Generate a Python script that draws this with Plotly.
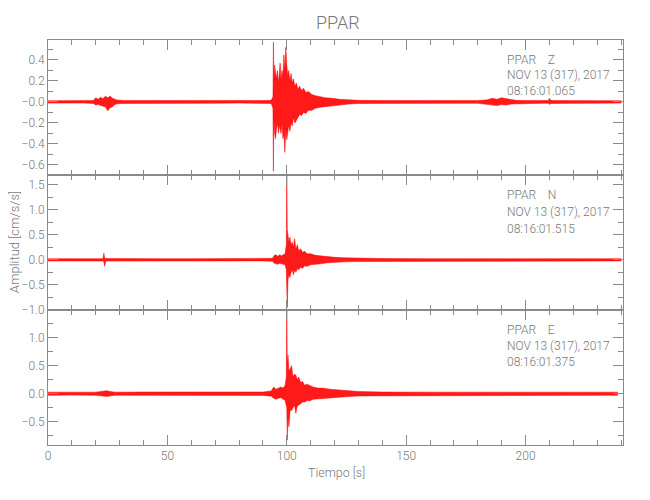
import plotly.graph_objects as go
from plotly.subplots import make_subplots

# ---------------- data (envelopes) ----------------
t_Z = [0, 5, 10, 15, 19, 20, 21, 22, 23, 24, 25, 26, 27, 28, 29, 32, 40, 50, 60, 70, 80, 90,
       93.5, 94.2, 94.4, 94.6, 94.9, 95.3, 95.7, 96.1, 96.5, 96.9, 97.2, 97.6, 98.0, 98.4, 98.8,
       99.2, 99.6, 100.0, 100.4, 100.8, 101.3, 101.8, 102.3, 102.8, 103.4, 104.0, 104.7, 105.4,
       106.2, 107.0, 108.0, 109.0, 110.5, 112.0, 114.0, 116.0, 119.0, 122.0, 126.0, 130.0, 140,
       150, 160, 170, 180, 184, 186, 188, 190, 192, 194, 196, 200, 208, 209.5, 210, 210.5, 212,
       220, 230, 240]
up_Z = [.011, .013, .012, .013, .014, .04, .025, .045, .03, .055, .04, .055, .035, .025, .018, .014,
        .013, .012, .012, .011, .012, .013,
        .015, .05, .57, .2, .35, .3, .22, .3, .18, .28, .37, .2, .3, .25, .45,
        .3, .52, .35, .25, .3, .2, .27, .18, .22, .15, .18, .12, .15,
        .11, .13, .09, .1, .07, .06, .05, .04, .035, .025, .02, .015, .013,
        .012, .013, .012, .013, .02, .035, .025, .04, .03, .025, .015, .013, .012, .013, .035, .015, .013,
        .012, .012, .011]
lo_Z = [-.011, -.012, -.013, -.011, -.014, -.03, -.025, -.035, -.04, -.045, -.085, -.055, -.045, -.025,
        -.018, -.014, -.013, -.012, -.011, -.012, -.011, -.013,
        -.015, -.06, -.66, -.15, -.3, -.35, -.25, -.2, -.3, -.22, -.26, -.3, -.2, -.35, -.3,
        -.48, -.25, -.36, -.3, -.22, -.28, -.2, -.23, -.15, -.2, -.17, -.15, -.12,
        -.13, -.1, -.11, -.08, -.08, -.06, -.05, -.04, -.035, -.03, -.02, -.015, -.013,
        -.012, -.012, -.013, -.013, -.02, -.03, -.035, -.025, -.03, -.02, -.015, -.013, -.012,
        -.013, -.025, -.015, -.013, -.012, -.012, -.011]

t_N = [0, 10, 20, 23, 23.4, 23.7, 24.2, 30, 40, 50, 60, 70, 80, 90, 94, 94.8, 95.5, 96.3, 97,
       97.8, 98.6, 99.3, 99.8, 100.0, 100.2, 100.5, 100.9, 101.3, 101.8, 102.3, 102.8, 103.3,
       103.8, 104.4, 105.0, 105.8, 106.6, 107.5, 108.5, 110, 112, 114, 117, 120, 124, 128, 132,
       140, 160, 180, 200, 220, 240]
up_N = [.022, .022, .022, .022, .13, .04, .025, .022, .022, .022, .022, .022, .022, .022, .03,
        .09, .1, .07, .1, .08, .1, .12, .3, 1.7, .6, .52, .35, .45, .3, .35, .25, .42,
        .2, .3, .18, .22, .15, .17, .12, .12, .09, .08, .06, .05, .04, .035, .03,
        .025, .022, .022, .022, .022, .022]
lo_N = [-.022, -.022, -.022, -.025, -.04, -.13, -.025, -.022, -.022, -.022, -.022, -.022, -.022,
        -.022, -.03, -.07, -.08, -.09, -.07, -.08, -.09, -.1, -.2, -.3, -.95, -.4, -.3, -.35,
        -.25, -.2, -.3, -.2, -.25, -.18, -.2, -.15, -.17, -.12, -.13, -.1, -.09, -.08, -.06,
        -.05, -.04, -.035, -.03, -.025, -.022, -.022, -.022, -.022, -.022]

t_E = [0, 10, 20, 23, 24.5, 26, 28, 40, 60, 80, 90, 93.5, 94.5, 95.5, 96.5, 97.5, 98.5, 99.3,
       99.8, 100.0, 100.2, 100.5, 100.9, 101.4, 102.0, 102.6, 103.2, 103.8, 104.4, 105.0, 105.8,
       106.6, 107.5, 108.5, 109.5, 111, 113, 115, 118, 122, 126, 130, 135, 140, 160, 180, 200,
       220, 238.5]
up_E = [.028, .028, .028, .045, .055, .04, .028, .03, .028, .028, .03, .05, .12, .08, .1, .12, .1, .15,
        .3, 1.6, .5, .69, .4, .45, .5, .3, .35, .33, .25, .3, .2,
        .22, .15, .17, .15, .12, .1, .1, .08, .065, .05, .04, .035, .03, .028, .028, .028,
        .028, .028]
lo_E = [-.028, -.025, -.028, -.04, -.05, -.04, -.028, -.03, -.028, -.028, -.03, -.045, -.08, -.1, -.08,
        -.07, -.1, -.12, -.2, -.25, -.83, -.4, -.59, -.3, -.3, -.25, -.2, -.35, -.22, -.2, -.18,
        -.15, -.15, -.12, -.13, -.1, -.1, -.09, -.08, -.065, -.05, -.04, -.035, -.03, -.028, -.028,
        -.028, -.028, -.028]

panels = [("Z", t_Z, up_Z, lo_Z, "08:16:01.065"),
          ("N", t_N, up_N, lo_N, "08:16:01.515"),
          ("E", t_E, up_E, lo_E, "08:16:01.375")]

y_ranges = [[-0.696, 0.59], [-1.0, 1.69], [-0.916, 1.495]]
y_ticks = [[-0.6, -0.4, -0.2, 0.0, 0.2, 0.4], [-1.0, -0.5, 0.0, 0.5, 1.0, 1.5], [-0.5, 0.0, 0.5, 1.0]]
y_ticktext = [["\u22120.6", "\u22120.4", "\u22120.2", "\u22120.0", "0.2", "0.4"],
              ["\u22121.0", "\u22120.5", "0.0", "0.5", "1.0", "1.5"],
              ["\u22120.5", "0.0", "0.5", "1.0"]]
y_minor = [0.1, 0.25, 0.25]
x_ticks = [0, 50, 100, 150, 200]

FONT = "Roboto"
GREY = "#777777"
AX = "#8a8a8a"

fig = make_subplots(rows=3, cols=1, shared_xaxes=True, vertical_spacing=0)

for i, (comp, t, up, lo, tm) in enumerate(panels):
    xs = list(t) + list(t)[::-1]
    ys = list(up) + list(lo)[::-1]
    fig.add_trace(go.Scatter(x=xs, y=ys, mode="lines", fill="toself",
                             fillcolor="rgba(255,0,0,0.9)",
                             line=dict(color="#ff0000", width=0.5),
                             hoverinfo="skip", showlegend=False), row=i + 1, col=1)
    fig.update_yaxes(range=y_ranges[i], tickvals=y_ticks[i], ticktext=y_ticktext[i],
                     ticks="inside", ticklen=10, tickcolor=AX, showline=True, linecolor=AX,
                     linewidth=1, mirror="ticks", showgrid=False, zeroline=False, automargin=False,
                     minor=dict(dtick=y_minor[i], tick0=0, ticks="inside", ticklen=5, tickcolor=AX),
                     tickfont=dict(family=FONT, size=12, color=GREY, weight=300),
                     row=i + 1, col=1)
    fig.update_xaxes(range=[0, 240.8], tickvals=x_ticks, ticks="inside", ticklen=10,
                     tickcolor=AX, showline=True, linecolor=AX, linewidth=1, mirror="ticks",
                     showgrid=False, zeroline=False, automargin=False,
                     minor=dict(dtick=10, tick0=0, ticks="inside", ticklen=5, tickcolor=AX),
                     tickfont=dict(family=FONT, size=12, color=GREY, weight=300),
                     showticklabels=(i == 2), row=i + 1, col=1)

ann_y = [[0.9506, 0.9136, 0.874], [0.6173, 0.5753, 0.5333], [0.284, 0.2444, 0.2049]]
for i, (comp, t, up, lo, tm) in enumerate(panels):
    lines = ["PPAR\u00a0\u00a0\u00a0\u00a0" + comp, "NOV 13 (317), 2017", tm]
    for j, txt in enumerate(lines):
        fig.add_annotation(text=txt, xref="paper", yref="paper", x=0.795, y=ann_y[i][j],
                           xanchor="left", yanchor="middle", showarrow=False,
                           font=dict(family=FONT, size=12, color=GREY, weight=300))

fig.add_annotation(text="Amplitud [cm/s/s]", xref="paper", yref="paper", x=-0.059, y=0.501,
                   textangle=-90, xanchor="center", yanchor="middle", showarrow=False,
                   font=dict(family=FONT, size=13, color=GREY, weight=300))
fig.add_annotation(text="Tiempo [s]", xref="paper", yref="paper", x=0.5009, y=-0.0667,
                   xanchor="center", yanchor="middle", showarrow=False,
                   font=dict(family=FONT, size=12.5, color=GREY, weight=300))
fig.add_annotation(text="PPAR", xref="paper", yref="paper", x=0.504, y=1.044,
                   xanchor="center", yanchor="middle", showarrow=False,
                   font=dict(family=FONT, size=18, color=GREY, weight=300))

# page body has an 8 px margin, so the figure is a little smaller and shifted back
fig.update_layout(width=642, height=492, margin=dict(l=40, r=27, t=32, b=55),
                  plot_bgcolor="white", paper_bgcolor="white", showlegend=False)

fig.write_html("out.html")
